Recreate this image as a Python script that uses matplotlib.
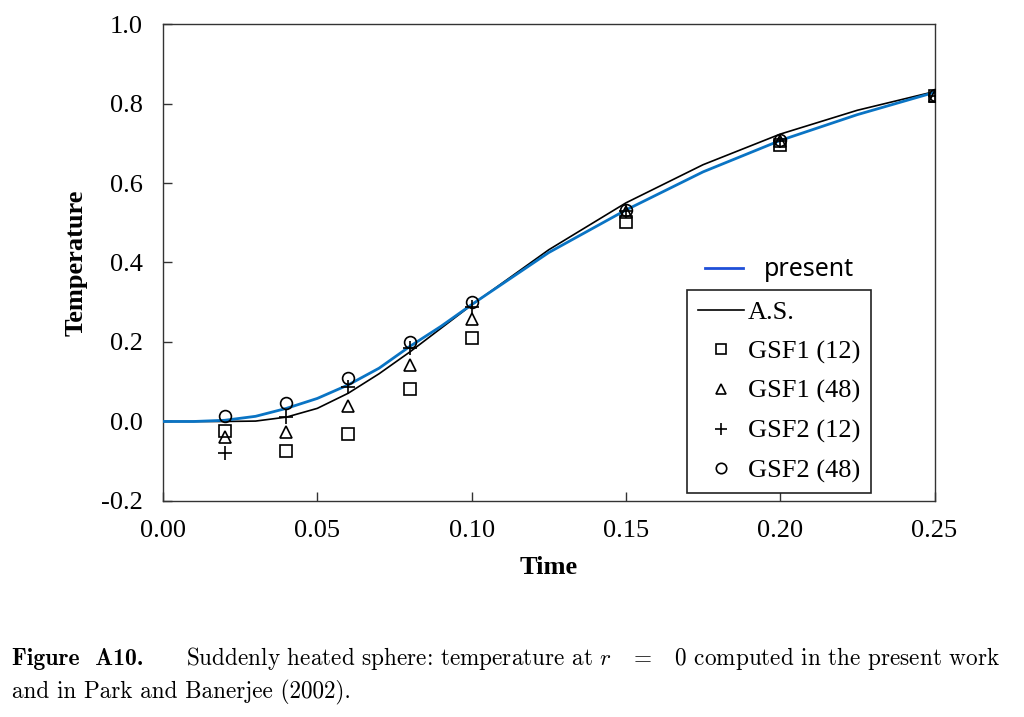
import matplotlib
matplotlib.use('Agg')
import matplotlib.pyplot as plt
from matplotlib.lines import Line2D

plt.rcParams['axes.unicode_minus'] = False
plt.rcParams['mathtext.fontset'] = 'cm'

# present (numerical) solution
t_present = [0.0, 0.01, 0.02, 0.03, 0.04, 0.05, 0.06, 0.07, 0.08, 0.09, 0.10,
             0.125, 0.15, 0.175, 0.20, 0.225, 0.25]
T_present = [0.0, 0.0, 0.003, 0.013, 0.033, 0.058, 0.092, 0.134, 0.189, 0.239, 0.294,
             0.425, 0.532, 0.628, 0.707, 0.772, 0.828]

# A.S. (analytical solution), black line
t_as = [0.0, 0.01, 0.02, 0.03, 0.04, 0.05, 0.06, 0.07, 0.08, 0.09, 0.10,
        0.125, 0.15, 0.175, 0.20, 0.225, 0.25]
T_as = [0.0, 0.0, 0.0, 0.001, 0.011, 0.033, 0.071, 0.120, 0.175, 0.234, 0.293,
        0.432, 0.550, 0.646, 0.723, 0.783, 0.830]

# Park and Banerjee (2002) results
t_pts = [0.02, 0.04, 0.06, 0.08, 0.10, 0.15, 0.20, 0.25]
gsf1_12 = [-0.024, -0.074, -0.032, 0.081, 0.210, 0.501, 0.696, 0.818]
gsf1_48 = [-0.040, -0.026, 0.039, 0.142, 0.258, 0.526, 0.706, 0.818]
gsf2_12 = [-0.080, 0.012, 0.086, 0.185, 0.288, 0.530, 0.706, 0.820]
gsf2_48 = [0.014, 0.046, 0.109, 0.200, 0.300, 0.533, 0.708, 0.822]

fig = plt.figure(figsize=(10.24, 7.17), dpi=100)
ax = fig.add_axes([0.1592, 0.3013, 0.7534, 0.6652])

serif = 'Liberation Serif'

ax.plot(t_as, T_as, color='black', lw=1.2, zorder=3)
ax.plot(t_present, T_present, color='#0a74c4', lw=2.0, zorder=4)
mk = dict(ls='none', mfc='none', mec='black', mew=1.2, zorder=5)
ax.plot(t_pts, gsf1_12, marker='s', ms=8, **mk)
ax.plot(t_pts, gsf1_48, marker='^', ms=8, **mk)
ax.plot(t_pts, gsf2_12, marker='+', ms=10, **mk)
ax.plot(t_pts, gsf2_48, marker='o', ms=8.5, **mk)

ax.set_xlim(0, 0.25)
ax.set_ylim(-0.2, 1.0)
ax.set_xticks([0.0, 0.05, 0.10, 0.15, 0.20, 0.25])
ax.set_xticklabels(['0.00', '0.05', '0.10', '0.15', '0.20', '0.25'])
ax.set_yticks([-0.2, 0.0, 0.2, 0.4, 0.6, 0.8, 1.0])
ax.set_yticklabels(['-0.2', '0.0', '0.2', '0.4', '0.6', '0.8', '1.0'])
ax.tick_params(direction='in', length=6.5, width=1.0, color='#333333',
               top=False, right=False, labelsize=19)
ax.tick_params(axis='x', pad=14)
ax.tick_params(axis='y', pad=14.5)
for lab in ax.get_xticklabels() + ax.get_yticklabels():
    lab.set_family(serif)
for s in ax.spines.values():
    s.set_linewidth(1.0)
    s.set_color('#333333')

ax.set_xlabel('Time', family=serif, fontweight='bold', fontsize=19, labelpad=10)
ax.set_ylabel('Temperature', family=serif, fontweight='bold', fontsize=19, labelpad=10)

# "present" entry sits above the framed legend, without a frame
h_present = [Line2D([], [], color='#1f4fd8', lw=2.0)]
leg1 = fig.legend(h_present, ['present'], loc='center left',
                  bbox_to_anchor=(705 / 1024, 1 - 270 / 717), frameon=False,
                  borderpad=0, borderaxespad=0, handlelength=1.5, handletextpad=0.85,
                  prop={'family': 'Noto Sans', 'size': 18})

h_rest = [Line2D([], [], color='black', lw=1.2),
          Line2D([], [], marker='s', ms=7, **mk),
          Line2D([], [], marker='^', ms=7, **mk),
          Line2D([], [], marker='+', ms=9, **mk),
          Line2D([], [], marker='o', ms=7.5, **mk)]
leg2 = fig.legend(h_rest, ['A.S.', 'GSF1 (12)', 'GSF1 (48)', 'GSF2 (12)', 'GSF2 (48)'],
                  loc='upper left', bbox_to_anchor=(687 / 1024, 1 - 290 / 717),
                  borderaxespad=0, fancybox=False, framealpha=1, edgecolor='#222222',
                  handlelength=1.75, handletextpad=0.15, labelspacing=0.6,
                  prop={'family': serif, 'size': 19})
leg2.get_frame().set_linewidth(1.2)

# caption
fig.text(12 / 1024, 1 - 659 / 717, 'Figure  A10.', family='cmb10', fontsize=17,
         va='center', ha='left')
fig.text(186 / 1024, 1 - 659 / 717,
         'Suddenly heated sphere: temperature at $r$   =   0 computed in the present work',
         family='cmr10', fontsize=16.7, va='center', ha='left')
fig.text(12 / 1024, 1 - 692 / 717, 'and in Park and Banerjee (2002).',
         family='cmr10', fontsize=16.7, va='center', ha='left')

fig.savefig('out.png', dpi=100)
